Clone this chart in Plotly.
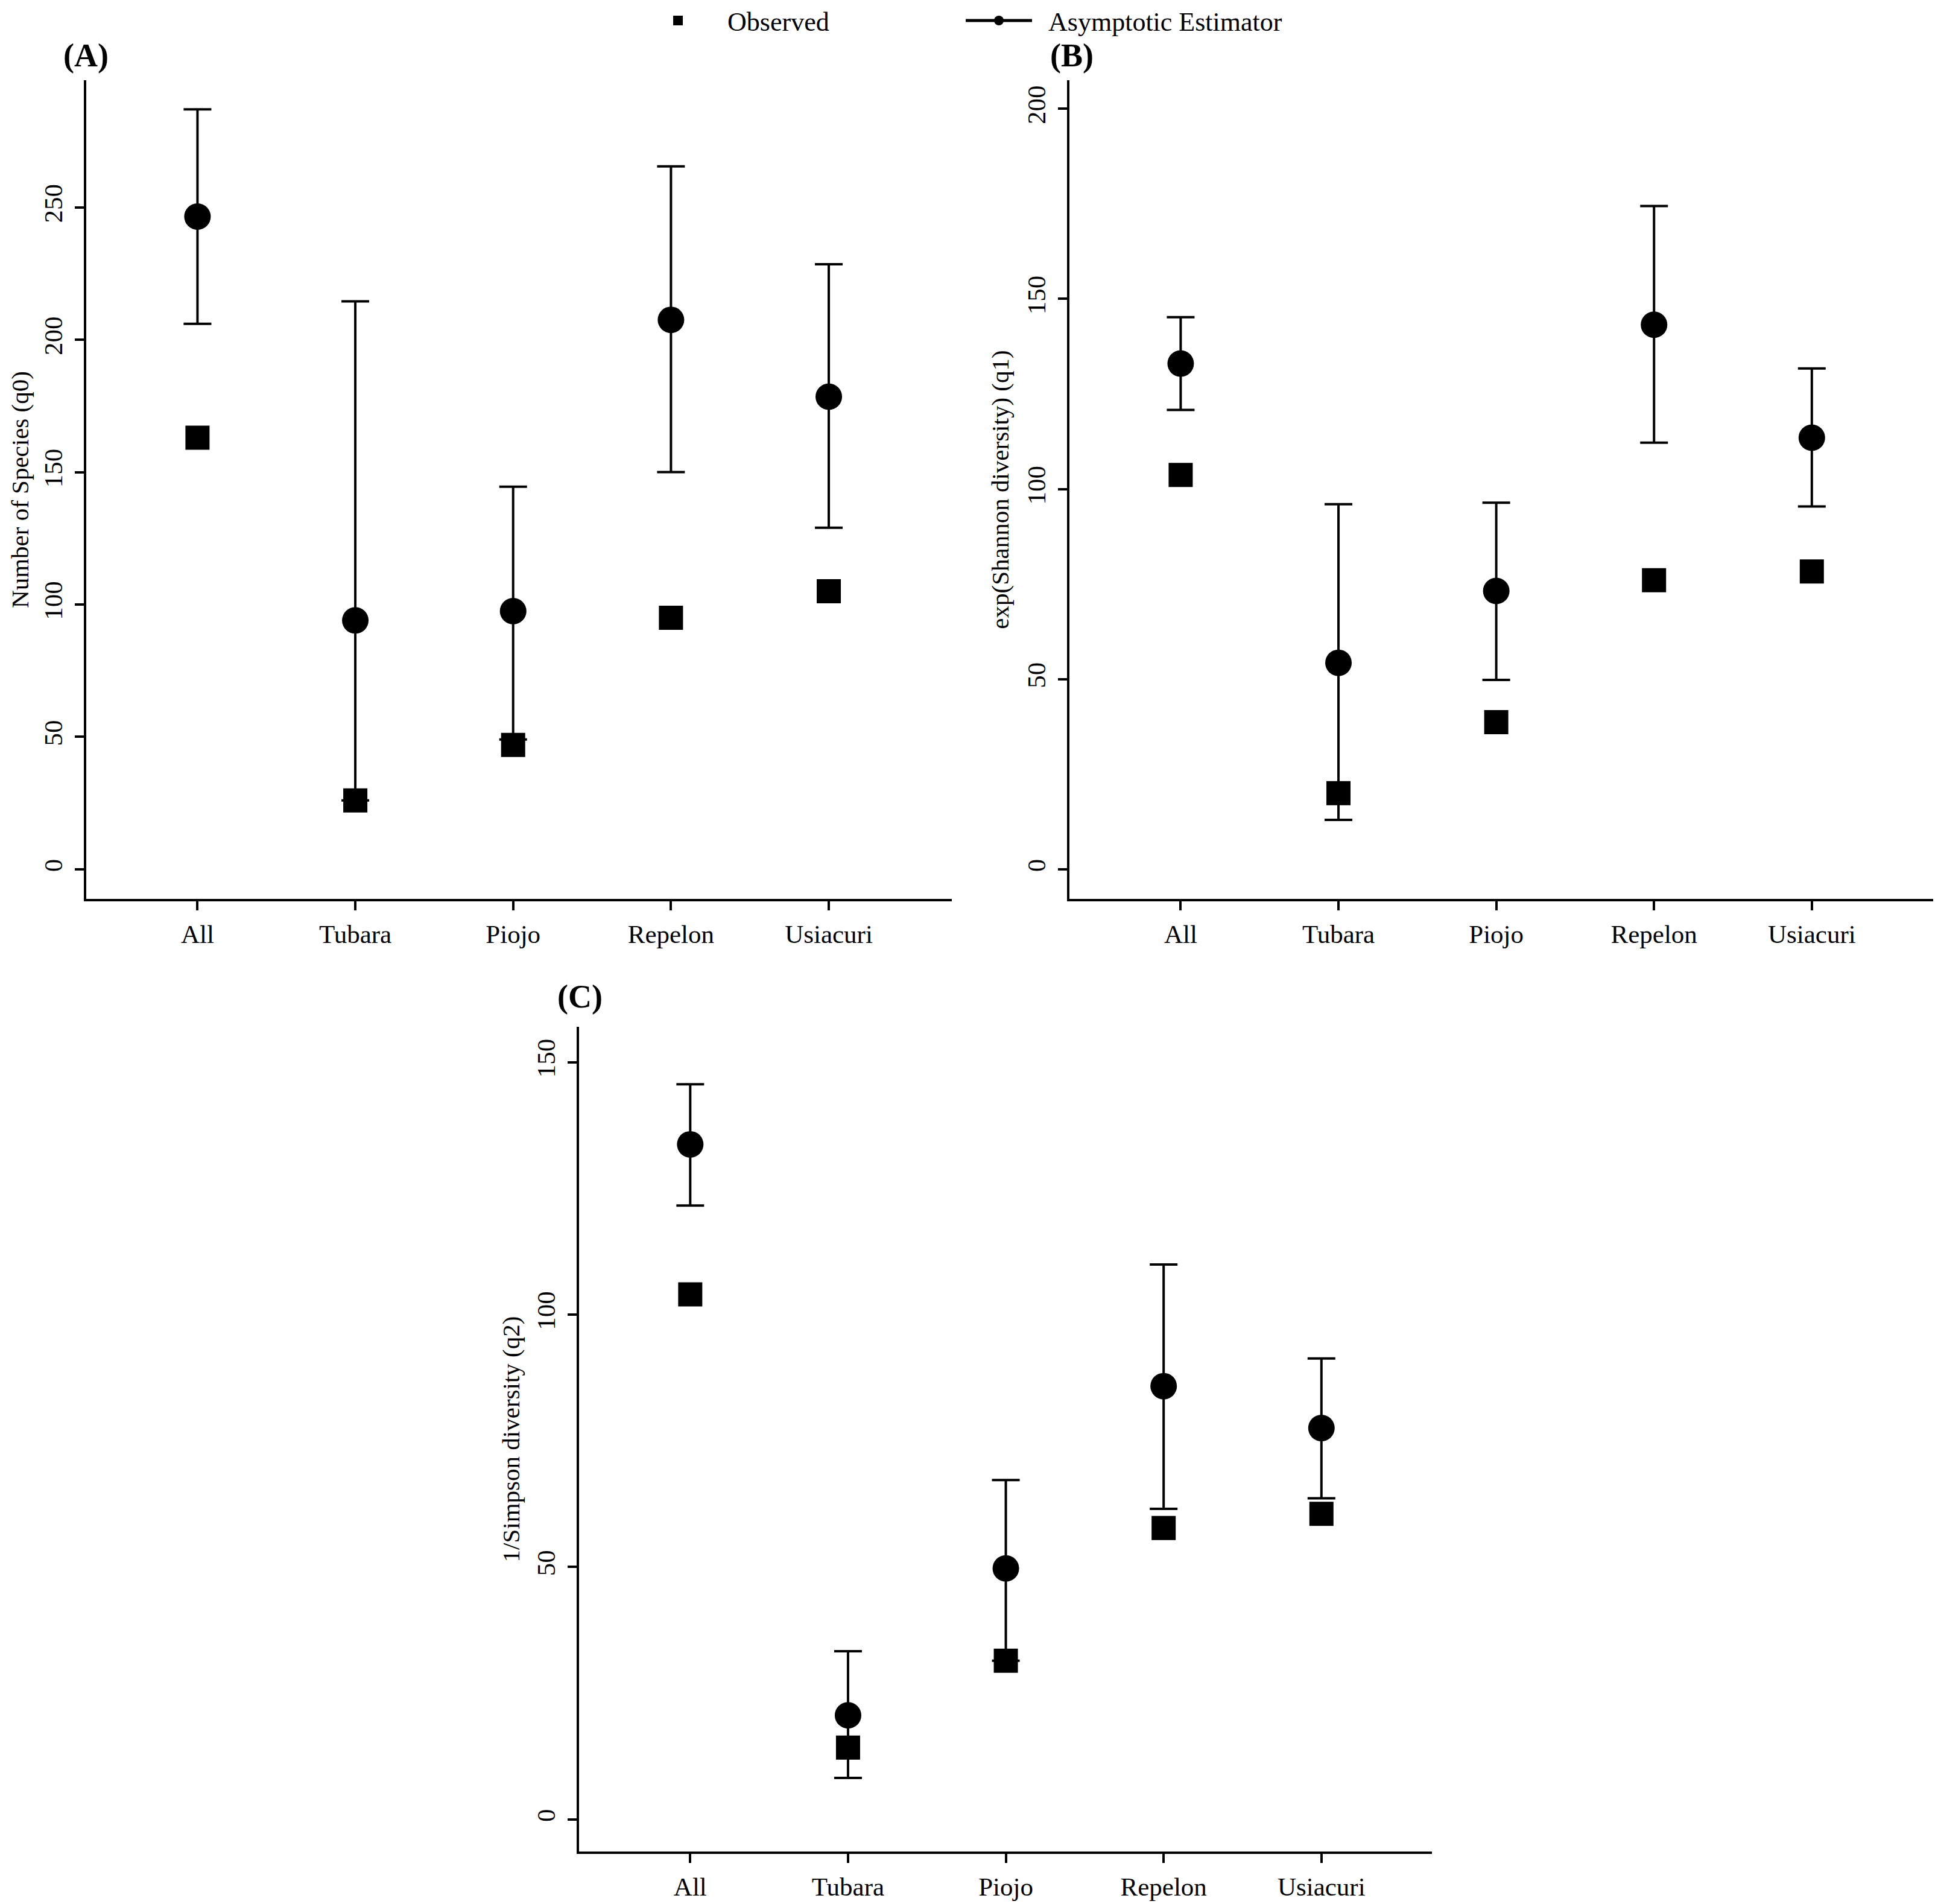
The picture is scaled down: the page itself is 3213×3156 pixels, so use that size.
""" diversity estimates per site, three hill numbers (q0, q1, q2) """

import plotly.graph_objects as go

sites = ["All", "Tubara", "Piojo", "Repelon", "Usiacuri"]

# (A) species richness q0
q0_observed = [163, 26, 47, 95, 105]
q0_estimate = [246.5, 94, 97.5, 207.5, 178.5]
q0_upper = [287, 214.5, 144.5, 265.5, 228.5]
q0_lower = [206, 26, 49, 150, 129]

# (B) exp(Shannon) q1
q1_observed = [103.7, 20, 38.7, 76, 78.3]
q1_estimate = [133, 54.3, 73.2, 143.2, 113.5]
q1_upper = [145.2, 96, 96.4, 174.4, 131.7]
q1_lower = [120.8, 13, 49.8, 112.2, 95.4]

# (C) 1/Simpson q2
q2_observed = [104, 14.2, 31.4, 57.7, 60.5]
q2_estimate = [133.7, 20.6, 49.7, 85.8, 77.5]
q2_upper = [145.6, 33.3, 67.2, 109.9, 91.3]
q2_lower = [121.6, 8.2, 31.4, 61.5, 63.6]

FONT = "Liberation Serif"

fig = go.Figure()

panels = [
    ("x", "y", q0_observed, q0_estimate, q0_upper, q0_lower),
    ("x2", "y2", q1_observed, q1_estimate, q1_upper, q1_lower),
    ("x3", "y3", q2_observed, q2_estimate, q2_upper, q2_lower),
]

for xa, ya, obs, est, up, lo in panels:
    # estimator with confidence interval first, observed squares on top
    fig.add_trace(go.Scatter(
        x=sites, y=est, xaxis=xa, yaxis=ya, mode="markers",
        marker=dict(symbol="circle", size=44, color="black"),
        error_y=dict(type="data", symmetric=False,
                     array=[u - e for u, e in zip(up, est)],
                     arrayminus=[e - l for e, l in zip(est, lo)],
                     color="black", thickness=4, width=23),
        showlegend=False))
    fig.add_trace(go.Scatter(
        x=sites, y=obs, xaxis=xa, yaxis=ya, mode="markers",
        marker=dict(symbol="square", size=40, color="black"),
        name="&nbsp;&nbsp;Observed", showlegend=(xa == "x"), legendrank=1))

# legend key for the estimator (line + dot)
fig.add_trace(go.Scatter(
    x=[None], y=[None], mode="lines+markers",
    name="&nbsp;&nbsp;Asymptotic Estimator",
    marker=dict(symbol="circle", size=16, color="black"),
    line=dict(color="black", width=5), legendrank=2))

axis_style = dict(showline=True, linecolor="black", linewidth=4,
                  ticks="outside", ticklen=15, tickwidth=4, tickcolor="black",
                  showgrid=False, zeroline=False,
                  tickfont=dict(family=FONT, size=43, color="black"))

xstyle = dict(axis_style, type="category", categoryorder="array",
              categoryarray=sites, ticklabelstandoff=2)
ystyle = dict(axis_style, tickangle=-90, ticklabelstandoff=4)

# page body adds an 8px offset, so the figure is 8px smaller than the window
fig.update_layout(
    width=3205, height=3148,
    margin=dict(l=0, r=0, t=0, b=0, autoexpand=False),
    paper_bgcolor="white", plot_bgcolor="white",
    font=dict(family=FONT, color="black"),
    xaxis=dict(xstyle, domain=[0.0421, 0.4899], range=[-0.705, 4.78], anchor="y"),
    yaxis=dict(ystyle, domain=[0.5292, 0.9603], range=[-11.2, 298], anchor="x",
               tickvals=[0, 50, 100, 150, 200, 250],
               title=dict(text="Number of Species (q0)", standoff=5,
                          font=dict(family=FONT, size=41))),
    xaxis2=dict(xstyle, domain=[0.5507, 0.9984], range=[-0.705, 4.78], anchor="y2"),
    yaxis2=dict(ystyle, domain=[0.5292, 0.9603], range=[-7.8, 207.5], anchor="x2",
                tickvals=[0, 50, 100, 150, 200],
                title=dict(text="exp(Shannon diversity) (q1)", standoff=10,
                           font=dict(family=FONT, size=41))),
    xaxis3=dict(xstyle, domain=[0.2970, 0.7382], range=[-0.705, 4.7], anchor="y3"),
    yaxis3=dict(ystyle, domain=[0.0276, 0.4619], range=[-6.4, 157], anchor="x3",
                tickvals=[0, 50, 100, 150],
                title=dict(text="1/Simpson diversity (q2)", standoff=8,
                           font=dict(family=FONT, size=41))),
    legend=dict(orientation="h", x=0.3295, xanchor="left", y=1.0029, yanchor="top",
                itemwidth=110, entrywidth=407, bgcolor="rgba(0,0,0,0)",
                font=dict(family=FONT, size=44, color="black")),
)

# panel letters
for text, x, y in [("(A)", 0.042, 0.9732), ("(B)", 0.552, 0.9732), ("(C)", 0.2974, 0.4778)]:
    fig.add_annotation(text="<b>" + text + "</b>", x=x, y=y, xref="paper", yref="paper",
                       xanchor="center", yanchor="middle", showarrow=False,
                       font=dict(family=FONT, size=54, color="black"))

fig.write_html("out.html")
